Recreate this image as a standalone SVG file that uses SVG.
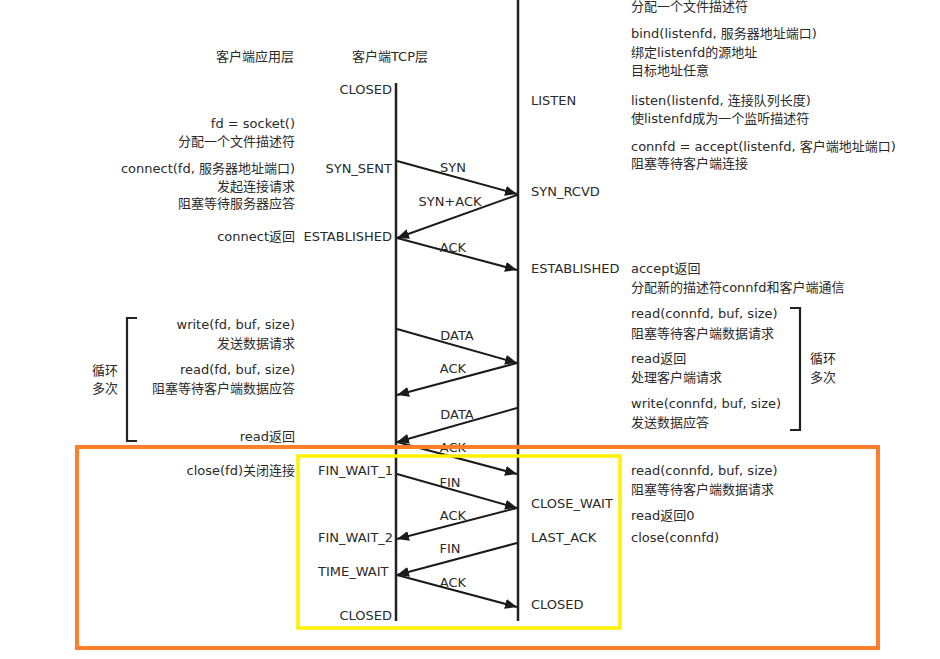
<svg xmlns="http://www.w3.org/2000/svg" width="940" height="659" viewBox="0 0 940 659">
<style>
text{font-family:"DejaVu Sans","Noto Sans CJK SC",sans-serif;font-size:13px;fill:#2a2a2a}
.r{text-anchor:end}
.m{text-anchor:middle}
.life{stroke:#222;stroke-width:2.5;fill:none}
.msg{stroke:#1a1a1a;stroke-width:2;fill:none;marker-end:url(#ah)}
.br{stroke:#222;stroke-width:2.2;fill:none}
</style>
<defs>
<marker id="ah" markerUnits="userSpaceOnUse" markerWidth="12" markerHeight="10" refX="12" refY="5" orient="auto">
<path d="M0,0 L12,5 L0,10 z" fill="#1a1a1a"/>
</marker>
</defs>
<rect width="940" height="659" fill="#fff"/>

<g id="headers">
<text class="r" x="294" y="61">客户端应用层</text>
<text class="m" x="390" y="61">客户端TCP层</text>
</g>

<g id="lifelines">
<line class="life" x1="396" y1="83" x2="396" y2="621"/>
<line class="life" x1="518" y1="0" x2="518" y2="621"/>
</g>

<g id="client-states">
<text class="r" x="392" y="94">CLOSED</text>
<text class="r" x="392" y="173">SYN_SENT</text>
<text class="r" x="392" y="241">ESTABLISHED</text>
<text x="318" y="475">FIN_WAIT_1</text>
<text x="318" y="542">FIN_WAIT_2</text>
<text x="318" y="576">TIME_WAIT</text>
<text class="r" x="392" y="620">CLOSED</text>
</g>

<g id="server-states">
<text x="531" y="105">LISTEN</text>
<text x="531" y="196">SYN_RCVD</text>
<text x="531" y="273">ESTABLISHED</text>
<text x="531" y="508">CLOSE_WAIT</text>
<text x="531" y="542">LAST_ACK</text>
<text x="531" y="609">CLOSED</text>
</g>

<g id="client-app">
<text class="r" x="295" y="128">fd = socket()</text>
<text class="r" x="295" y="146">分配一个文件描述符</text>
<text class="r" x="295" y="173">connect(fd, 服务器地址端口)</text>
<text class="r" x="295" y="191">发起连接请求</text>
<text class="r" x="295" y="208">阻塞等待服务器应答</text>
<text class="r" x="295" y="241">connect返回</text>
<text class="r" x="295" y="329">write(fd, buf, size)</text>
<text class="r" x="295" y="348">发送数据请求</text>
<text class="r" x="295" y="374">read(fd, buf, size)</text>
<text class="r" x="295" y="393">阻塞等待客户端数据应答</text>
<text class="r" x="295" y="441">read返回</text>
<text class="r" x="295" y="475">close(fd)关闭连接</text>
</g>

<g id="client-loop">
<path class="br" d="M137,318 L127,318 L127,441 L137,441"/>
<text class="m" x="105" y="375">循环</text>
<text class="m" x="105" y="393">多次</text>
</g>

<g id="server-app">
<text x="631" y="11">分配一个文件描述符</text>
<text x="631" y="38">bind(listenfd, 服务器地址端口)</text>
<text x="631" y="57">绑定listenfd的源地址</text>
<text x="631" y="75">目标地址任意</text>
<text x="631" y="105">listen(listenfd, 连接队列长度)</text>
<text x="631" y="123">使listenfd成为一个监听描述符</text>
<text x="631" y="151">connfd = accept(listenfd, 客户端地址端口)</text>
<text x="631" y="168">阻塞等待客户端连接</text>
<text x="631" y="273">accept返回</text>
<text x="631" y="292">分配新的描述符connfd和客户端通信</text>
<text x="631" y="318">read(connfd, buf, size)</text>
<text x="631" y="338">阻塞等待客户端数据请求</text>
<text x="631" y="363">read返回</text>
<text x="631" y="382">处理客户端请求</text>
<text x="631" y="408">write(connfd, buf, size)</text>
<text x="631" y="427">发送数据应答</text>
<text x="631" y="475">read(connfd, buf, size)</text>
<text x="631" y="494">阻塞等待客户端数据请求</text>
<text x="631" y="520">read返回0</text>
<text x="631" y="542">close(connfd)</text>
</g>

<g id="server-loop">
<path class="br" d="M790,308 L800,308 L800,430 L790,430"/>
<text class="m" x="823" y="363">循环</text>
<text class="m" x="823" y="382">多次</text>
</g>

<g id="connectors">
<line class="msg" x1="397" y1="161" x2="517" y2="194"/>
<line class="msg" x1="517" y1="195" x2="397" y2="238"/>
<line class="msg" x1="397" y1="238" x2="517" y2="270"/>
<line class="msg" x1="397" y1="329" x2="517" y2="363"/>
<line class="msg" x1="517" y1="363" x2="397" y2="395"/>
<line class="msg" x1="517" y1="408" x2="397" y2="442"/>
<line class="msg" x1="397" y1="442" x2="517" y2="474"/>
<line class="msg" x1="397" y1="474" x2="517" y2="508"/>
<line class="msg" x1="517" y1="508" x2="397" y2="539"/>
<line class="msg" x1="517" y1="543" x2="397" y2="575"/>
<line class="msg" x1="397" y1="575" x2="517" y2="607"/>
</g>

<g id="connector-labels">
<text class="m" x="453" y="172">SYN</text>
<text class="m" x="450" y="206">SYN+ACK</text>
<text class="m" x="453" y="252">ACK</text>
<text class="m" x="457" y="340">DATA</text>
<text class="m" x="453" y="373">ACK</text>
<text class="m" x="457" y="419">DATA</text>
<text class="m" x="453" y="452">ACK</text>
<text class="m" x="450" y="487">FIN</text>
<text class="m" x="453" y="520">ACK</text>
<text class="m" x="450" y="553">FIN</text>
<text class="m" x="453" y="587">ACK</text>
</g>

<g id="highlights">
<rect x="77" y="447" width="801" height="201" fill="none" stroke="#FF7F2A" stroke-width="4"/>
<rect x="298" y="456" width="322" height="172" fill="none" stroke="#FFF200" stroke-width="3.5"/>
</g>
</svg>
